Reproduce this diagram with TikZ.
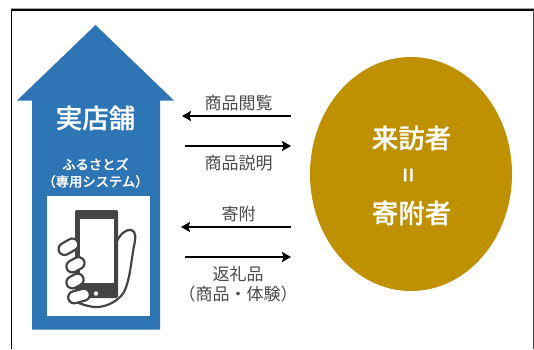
\documentclass[tikz,border=0pt]{standalone}
\usepackage{fontspec}
\setmainfont{Noto Sans CJK JP}
\newfontfamily\medf[FakeBold=0.5]{Noto Sans CJK JP Medium}
\usetikzlibrary{arrows.meta,shapes.geometric}
\definecolor{blueA}{HTML}{2E75B6}
\definecolor{goldA}{HTML}{BF9000}
\definecolor{greyT}{HTML}{4A4A4A}
\definecolor{phoneC}{HTML}{444444}
\tikzset{
  flow/.style={line width=2.8pt,draw=black,-{Stealth[length=9pt,width=10pt,inset=1.5pt]},shorten >=0pt},
  lab/.style={text=greyT,font=\fontsize{17}{20}\selectfont,align=center,inner sep=0pt},
  headw/.style={text=white,font=\fontsize{26.5}{30}\selectfont\medf,inner sep=0pt},
  subw/.style={text=white,font=\fontsize{13.3}{17}\selectfont\medf,align=center,inner sep=0pt},
  finger/.style={draw=phoneC,line width=2.2pt,fill=white,rounded corners=6pt},
}
\begin{document}
\begin{tikzpicture}[x=1pt,y=-1pt]
\useasboundingbox (0,0) rectangle (534,349);
\fill[white] (0,0) rectangle (534,349);
\draw[line width=0.8pt,draw=black!35] (11,8.8) -- (534,8.8);
\draw[line width=1.3pt,draw=black] (11.5,349) -- (11.5,10) -- (533.5,10);
\draw[line width=0.7pt,draw=black!70] (533,10) -- (533,349);
\fill[blueA] (95.5,25) -- (174,100.5) -- (160,100.5) -- (160,329.5) -- (32,329.5) -- (32,100.5) -- (17,100.5) -- cycle;
\node[headw] (shop) at (95.5,118) {実店舗};
\node[subw] (sys) at (95.5,173) {ふるさとズ\\（専用システム）};
\fill[white] (46.5,195.5) rectangle (149.5,316);
\draw[phoneC,line width=2.2pt,fill=white,line join=round]
  (116,243) .. controls (120,234) and (126,229) .. (131,230)
  .. controls (136,231) and (136,237) .. (134,246)
  .. controls (131,262) and (130,280) .. (124,292)
  .. controls (118,302) and (104,308) .. (94,307)
  .. controls (86,306) and (78,303) .. (72,300) -- (90,270) -- cycle;
\fill[phoneC,rounded corners=2pt] (75,210) rectangle (118,298);
\fill[white] (79.5,219) rectangle (113.5,283);
\fill[white] (96,293.5) circle (2.2);
\draw[finger,rotate around={30:(68,247)}] (58,241) rectangle (79,253);
\draw[finger,rotate around={28:(75,265)}] (66,259) rectangle (85,271);
\draw[finger,rotate around={28:(75,281)}] (66,275) rectangle (84,287);
\draw[finger,rotate around={15:(79,296)}] (68,290) rectangle (90,302);
\node[draw=none,fill=goldA,ellipse,minimum width=202pt,minimum height=234pt,inner sep=0pt] (donor) at (411,174) {};
\node[headw] (v) at (411.5,138) {来訪者};
\node[text=white,font=\fontsize{26}{30}\selectfont\medf,inner sep=0pt,rotate=90] (eq) at (411,175) {=};
\node[headw] (k) at (411.5,213) {寄附者};
\coordinate (a1) at (291,116); \coordinate (a2) at (182,116);
\coordinate (b1) at (185,146); \coordinate (b2) at (291,146);
\coordinate (c1) at (291,227); \coordinate (c2) at (181,227);
\coordinate (d1) at (185,257); \coordinate (d2) at (291,257);
\draw[flow] (a1) -- (a2);
\draw[flow] (b1) -- (b2);
\draw[flow] (c1) -- (c2);
\draw[flow] (d1) -- (d2);
\node[lab] (la) at (238.5,103) {商品閲覧};
\node[lab] (lb) at (238.5,163) {商品説明};
\node[lab] (lc) at (238.5,214) {寄附};
\node[lab] (ld) at (238,284.5) {返礼品\\（商品・体験）};
\end{tikzpicture}
\end{document}
